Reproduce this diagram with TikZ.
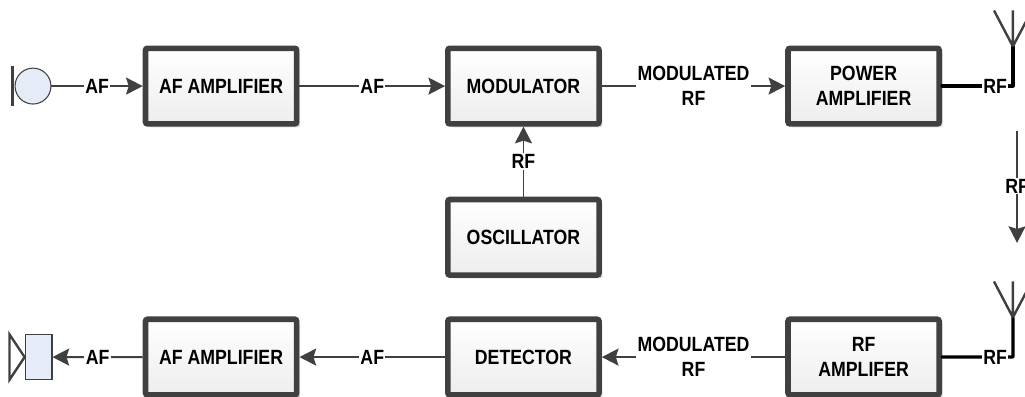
\documentclass[tikz,border=0pt]{standalone}
\usepackage{fontspec}
\setmainfont{Liberation Sans}[FakeStretch=.86]
\usetikzlibrary{arrows.meta,shadows}
\definecolor{linegray}{HTML}{404040}
\definecolor{partblue}{HTML}{E6ECF7}
\tikzset{
	blockbox/.style={draw=linegray, line width=4.2pt, rounded corners=1.5pt, minimum width=4cm, minimum height=2cm,
		align=center, inner sep=0pt, top color=white, bottom color=black!7,
		font=\fontsize{15.5}{19}\selectfont\bfseries,
		drop shadow={shadow xshift=.09cm, shadow yshift=-.09cm, fill=black, opacity=.14}},
	siglabel/.style={fill=white, inner sep=1pt, align=center, text=black, font=\fontsize{15.5}{19}\selectfont\bfseries},
	sigline/.style={draw=linegray, line width=1.4pt},
	rfline/.style={draw=black, line width=2.4pt, line cap=round, line join=round},
	antline/.style={draw=linegray, line width=1.8pt}
}
\begin{document}
\begin{tikzpicture}[node distance=4cm, >={Stealth[length=.44cm,width=.45cm,inset=.07cm]}]
	\useasboundingbox (0,0) rectangle (27.12,10.478);

	% Nodes
	\node[blockbox] (afamp) at (5.85,8.2) {AF AMPLIFIER};
	\node[blockbox, right of=afamp, xshift=4cm] (modulator) {MODULATOR};
	\node[blockbox, right of=modulator, xshift=5cm] (power) {POWER\\AMPLIFIER};
	\node[blockbox, below of=modulator] (oscillator) {OSCILLATOR};
	\node[blockbox, below of=afamp, yshift=-3.17cm] (afampb) {AF AMPLIFIER};
	\node[blockbox, right of=afampb, xshift=4cm] (detector) {DETECTOR};
	\node[blockbox, right of=detector, xshift=5cm] (rfamp) {RF\\AMPLIFER};

	\node[circle, draw=linegray, line width=.8pt, fill=partblue, minimum size=.95cm, inner sep=0pt] (mic) at (.873,8.2) {};
	\node[rectangle, draw=linegray, line width=.8pt, fill=partblue, minimum width=.71cm, minimum height=1.21cm, inner sep=0pt] (speaker) at (1.02,1.03) {};

	% Antennas
	\coordinate (txtip) at (26.8,9.25);
	\coordinate (txknee) at (26.8,8.2);
	\coordinate (rxtip) at (26.8,2.08);
	\coordinate (rxknee) at (26.8,1.03);
	\coordinate (linktop) at (26.91,7);
	\coordinate (linkend) at (26.91,4.05);

	% Arrows
	\draw[sigline, ->] (mic) -- node[siglabel] {AF} (afamp);
	\draw[sigline, ->] (afamp) -- node[siglabel] {AF} (modulator);
	\draw[sigline, ->] (modulator) -- node[siglabel] {MODULATED\\RF} (power);
	\draw[sigline, ->] (oscillator) -- node[siglabel] {RF} (modulator);
	\draw[sigline, ->] (afampb) -- node[siglabel] {AF} (speaker);
	\draw[sigline, ->] (detector) -- node[siglabel] {AF} (afampb);
	\draw[sigline, ->] (rfamp) -- node[siglabel] {MODULATED\\RF} (detector);
	\draw[sigline, ->] (linktop) -- node[siglabel, pos=.49] {RF} (linkend);
	\draw[rfline] (power) -- node[siglabel, pos=.75] {RF} (txknee) -- (txtip);
	\draw[rfline] (rfamp) -- node[siglabel, pos=.75] {RF} (rxknee) -- (rxtip);

	\draw[antline] (txtip) -- ++(-.5,.95) (txtip) -- ++(0,.95) (txtip) -- ++(.5,.95);
	\draw[antline] (rxtip) -- ++(-.5,.95) (rxtip) -- ++(0,.95) (rxtip) -- ++(.5,.95);
	\draw[antline] ([xshift=-.05cm]mic.west) ++(0,.53) -- ++(0,-1.06);
	\draw[antline, line join=miter] (speaker.west) -- ++(-.4,.6) -- ++(0,-1.2) -- cycle;
\end{tikzpicture}
\end{document}
